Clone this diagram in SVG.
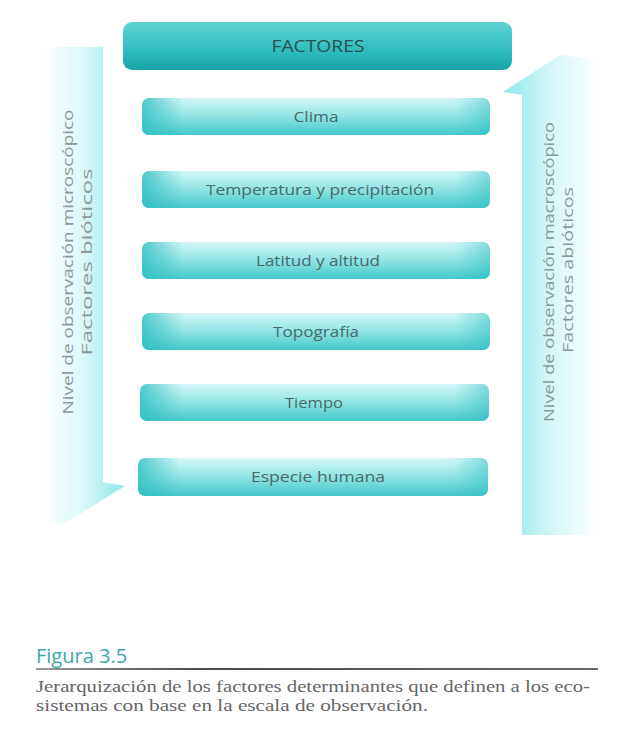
<svg xmlns="http://www.w3.org/2000/svg" width="633" height="742" viewBox="0 0 633 742">
<defs>
<linearGradient id="gHead" x1="0" y1="0" x2="0" y2="1">
<stop offset="0" stop-color="#5fd3d3"/><stop offset="0.6" stop-color="#2ebcbf"/><stop offset="1" stop-color="#1aa3a8"/>
</linearGradient>
<linearGradient id="gItem" x1="0" y1="0" x2="0" y2="1">
<stop offset="0" stop-color="#d6f7f7"/><stop offset="0.5" stop-color="#8fe3e4"/><stop offset="1" stop-color="#45c7ca"/>
</linearGradient>
<linearGradient id="gSide" x1="0" y1="0" x2="1" y2="0">
<stop offset="0" stop-color="#2fbfc3" stop-opacity="0.8"/><stop offset="0.12" stop-color="#2fbfc3" stop-opacity="0"/><stop offset="0.9" stop-color="#2fbfc3" stop-opacity="0"/><stop offset="1" stop-color="#2fbfc3" stop-opacity="0.5"/>
</linearGradient>
<linearGradient id="gLeft" x1="0" y1="0" x2="1" y2="0">
<stop offset="0" stop-color="#ffffff"/><stop offset="0.5" stop-color="#dcf8f8"/><stop offset="1" stop-color="#8fe6e8"/>
</linearGradient>
<linearGradient id="gRight" x1="0" y1="0" x2="1" y2="0">
<stop offset="0" stop-color="#8fe6e8"/><stop offset="0.5" stop-color="#d6f7f7"/><stop offset="1" stop-color="#ffffff"/>
</linearGradient>
<linearGradient id="gRule" x1="0" y1="0" x2="1" y2="0">
<stop offset="0" stop-color="#9a9a9a"/><stop offset="0.3" stop-color="#4a4a4a"/><stop offset="1" stop-color="#6a6a6a"/>
</linearGradient>
</defs>
<style>
.item rect.b{fill:url(#gItem);}
.item rect.s{fill:url(#gSide);}
.lbl{font-family:"Open Sans","Liberation Sans",sans-serif;font-size:15px;fill:#4a6a6a;text-anchor:middle;}
.side{font-family:"Open Sans","Liberation Sans",sans-serif;font-size:15px;fill:#8a9a9a;text-anchor:middle;}
.cap{font-family:"Liberation Serif",serif;font-size:16px;fill:#666;}
</style>
<rect width="633" height="742" fill="#ffffff"/>
<g id="arrows">
<path d="M40,47 L103,47 L103,482 L125,486 L62,525 L40,520 Z" fill="url(#gLeft)"/>
<path d="M522,535 L600,535 L600,60 L560,55 L503,92 L522,95 Z" fill="url(#gRight)"/>
</g>
<g id="factores">
<rect x="123" y="22" width="389" height="48" rx="9" fill="url(#gHead)"/>
<text x="318" y="52" class="lbl" style="font-size:16px;fill:#2c4f50" textLength="93" lengthAdjust="spacingAndGlyphs">FACTORES</text>
</g>
<g id="clima" class="item">
<rect class="b" x="142" y="98" width="348" height="37" rx="7"/><rect class="s" x="142" y="98" width="348" height="37" rx="7"/>
<text x="316" y="122" class="lbl" textLength="45" lengthAdjust="spacingAndGlyphs">Clima</text>
</g>
<g id="temperatura" class="item">
<rect class="b" x="142" y="171" width="348" height="37" rx="7"/><rect class="s" x="142" y="171" width="348" height="37" rx="7"/>
<text x="320" y="195" class="lbl" textLength="228" lengthAdjust="spacingAndGlyphs">Temperatura y precipitación</text>
</g>
<g id="latitud" class="item">
<rect class="b" x="142" y="242" width="348" height="37" rx="7"/><rect class="s" x="142" y="242" width="348" height="37" rx="7"/>
<text x="318" y="266" class="lbl" textLength="124" lengthAdjust="spacingAndGlyphs">Latitud y altitud</text>
</g>
<g id="topografia" class="item">
<rect class="b" x="142" y="313" width="348" height="37" rx="7"/><rect class="s" x="142" y="313" width="348" height="37" rx="7"/>
<text x="316" y="337" class="lbl" textLength="86" lengthAdjust="spacingAndGlyphs">Topografía</text>
</g>
<g id="tiempo" class="item">
<rect class="b" x="140" y="384" width="349" height="37" rx="7"/><rect class="s" x="140" y="384" width="349" height="37" rx="7"/>
<text x="314" y="408" class="lbl" textLength="58" lengthAdjust="spacingAndGlyphs">Tiempo</text>
</g>
<g id="especie" class="item">
<rect class="b" x="138" y="458" width="350" height="38" rx="7"/><rect class="s" x="138" y="458" width="350" height="38" rx="7"/>
<text x="318" y="482" class="lbl" textLength="134" lengthAdjust="spacingAndGlyphs">Especie humana</text>
</g>
<g id="left-label">
<text class="side" transform="translate(73,262) rotate(-90)" textLength="305" lengthAdjust="spacingAndGlyphs">Nivel de observación microscópico</text>
<text class="side" transform="translate(92,262) rotate(-90)" textLength="187" lengthAdjust="spacingAndGlyphs">Factores bióticos</text>
</g>
<g id="right-label">
<text class="side" transform="translate(554,272) rotate(-90)" textLength="300" lengthAdjust="spacingAndGlyphs">Nivel de observación macroscópico</text>
<text class="side" transform="translate(573,270) rotate(-90)" textLength="166" lengthAdjust="spacingAndGlyphs">Factores abióticos</text>
</g>
<g id="caption">
<text x="36" y="663" style="font-family:'Open Sans','Liberation Sans',sans-serif;font-size:20px;fill:#3aa9ab">Figura 3.5</text>
<rect x="36" y="668" width="562" height="2" fill="url(#gRule)"/>
<text x="36" y="692" class="cap" textLength="554" lengthAdjust="spacingAndGlyphs">Jerarquización de los factores determinantes que definen a los eco-</text>
<text x="36" y="711" class="cap" textLength="392" lengthAdjust="spacingAndGlyphs">sistemas con base en la escala de observación.</text>
</g>
</svg>
